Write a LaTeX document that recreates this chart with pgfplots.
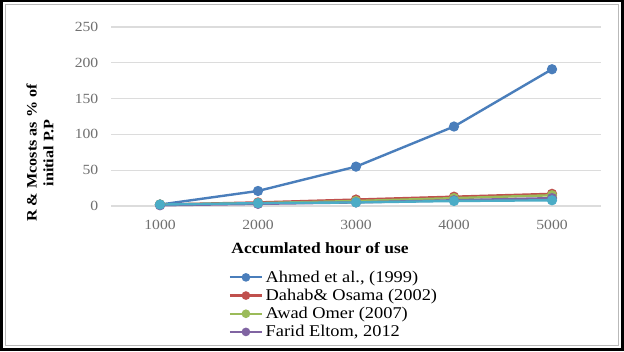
\documentclass[border=0pt]{standalone}
\usepackage{fontspec}
\setmainfont{Liberation Serif}[FakeStretch=1.12]
\usepackage{pgfplots}
\pgfplotsset{compat=1.18}
\definecolor{cA}{HTML}{4A7EBB}
\definecolor{cB}{HTML}{C0504D}
\definecolor{cC}{HTML}{9BBB59}
\definecolor{cD}{HTML}{8064A2}
\definecolor{cE}{HTML}{4BACC6}
\definecolor{tickgray}{HTML}{707070}
\definecolor{gridgray}{HTML}{DCDCDC}
\begin{document}
\begin{tikzpicture}[x=0.75pt,y=0.75pt]
\fill[black] (0,0) rectangle (624,351);
\fill[white] (3,3) rectangle (621,349);
\draw[gray!55, line width=0.8pt] (5.5,5.5) rectangle (618.5,346.5);
\begin{axis}[
  at={(83.25pt,108.75pt)}, anchor=south west, scale only axis,
  width=367.5pt, height=134.25pt,
  xmin=500, xmax=5500, ymin=0, ymax=250,
  xtick={1000,2000,3000,4000,5000},
  ytick={0,50,100,150,200,250},
  axis line style={draw=none},
  major tick length=0pt,
  ymajorgrids, grid style={color=gridgray, line width=0.8pt},
  tick label style={font=\fontsize{10.5}{11}\selectfont, text=tickgray},
  /pgf/number format/assume math mode=true,
  /pgf/number format/1000 sep={},
  xticklabel style={yshift=-7pt},
  yticklabel style={xshift=-6pt},
  clip=false,
  every axis plot/.append style={line width=1.8pt, mark=*, mark size=2.9pt},
  legend style={at={(0.24,-0.345)}, anchor=north west, draw=none, fill=none,
    font=\fontsize{12.3}{13}\selectfont, row sep=-0.4pt, inner sep=0pt,
    /tikz/every even column/.append style={column sep=2pt}},
  legend cell align=left,
  legend image code/.code={\draw[line width=1.6pt, mark size=2.4pt, mark repeat=2,mark phase=2] plot coordinates {(0pt,0pt) (12pt,0pt) (24pt,0pt)};},
]
\addplot[color=cA, mark options={fill=cA, draw=cA}] coordinates {(1000,2) (2000,21) (3000,55) (4000,111) (5000,191)};
\addlegendentry{Ahmed et al., (1999)}
\addplot[color=cB, mark options={fill=cB, draw=cB}] coordinates {(1000,2) (2000,5) (3000,9) (4000,13) (5000,17)};
\addlegendentry{Dahab\& Osama (2002)}
\addplot[color=cC, mark options={fill=cC, draw=cC}] coordinates {(1000,2) (2000,4) (3000,7) (4000,11) (5000,15)};
\addlegendentry{Awad Omer (2007)}
\addplot[color=cD, mark options={fill=cD, draw=cD}] coordinates {(1000,1) (2000,3) (3000,5) (4000,8) (5000,11)};
\addlegendentry{Farid Eltom, 2012}
\addplot[color=cE, mark options={fill=cE, draw=cE}, forget plot] coordinates {(1000,2) (2000,4) (3000,5) (4000,7) (5000,8)};
\end{axis}
\node[rotate=90, align=center, font=\fontsize{10.8}{12.5}\selectfont\bfseries] at (40,198) {R \& Mcosts as \% of\\initial P.P};
\node[font=\fontsize{11.7}{13}\selectfont\bfseries] at (320,103) {Accumlated hour of use};
\end{tikzpicture}
\end{document}
